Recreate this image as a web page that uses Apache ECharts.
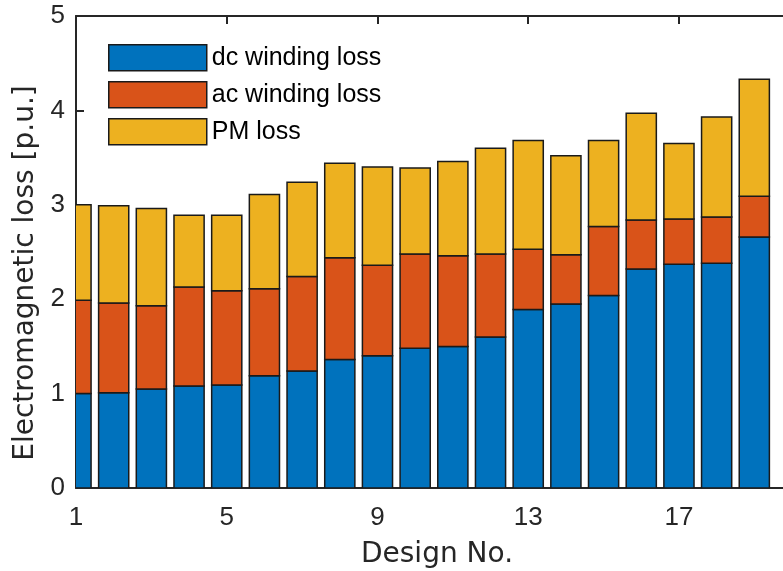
<!DOCTYPE html>
<html>
<head>
<meta charset="utf-8">
<title>Electromagnetic loss breakdown</title>
<script src="https://cdn.jsdelivr.net/npm/echarts@6/dist/echarts.min.js"></script>
<style>
  html, body { margin: 0; padding: 0; background: #fff; }
  #chart { width: 783px; height: 571px; }
</style>
</head>
<body>
<div id="chart"></div>
<script>
// Design numbers and per-design loss components (per unit)
const designs = [1, 2, 3, 4, 5, 6, 7, 8, 9, 10, 11, 12, 13, 14, 15, 16, 17, 18, 19];
const dcLoss = [1.00, 1.01, 1.05, 1.08, 1.09, 1.19, 1.24, 1.36, 1.40, 1.48, 1.50, 1.60, 1.89, 1.95, 2.04, 2.32, 2.37, 2.38, 2.66];
const acLoss = [0.99, 0.95, 0.88, 1.05, 1.00, 0.92, 1.00, 1.08, 0.96, 1.00, 0.96, 0.88, 0.64, 0.52, 0.73, 0.52, 0.48, 0.49, 0.43];
const pmLoss = [1.01, 1.03, 1.03, 0.76, 0.80, 1.00, 1.00, 1.00, 1.04, 0.91, 1.00, 1.12, 1.15, 1.05, 0.91, 1.13, 0.80, 1.06, 1.24];
const seriesNames = ['dc winding loss', 'ac winding loss', 'PM loss'];
const xTicks = [1, 5, 9, 13, 17];
const yTicks = [0, 1, 2, 3, 4, 5];

const seriesColors = ['#0072BD', '#D95319', '#EDB120'];
const EDGE = '#1a1a1a';
const BAR_WIDTH = 0.8;          // bar width in design-number units
const X_RANGE = [1, 20];

const LABEL_FONT = '"DejaVu Sans", "Liberation Sans", sans-serif';
const TICK_FONT = '"Liberation Sans", Arial, Helvetica, sans-serif';
const INK = '#262626';

const chart = echarts.init(document.getElementById('chart'), null, { renderer: 'canvas' });

const components = [dcLoss, acLoss, pmLoss];

// Each component is stacked on the sum of the components below it;
// rectangles are placed through the cartesian scales and clipped to the frame.
function stackedBars(k) {
  return {
    name: seriesNames[k],
    type: 'custom',
    coordinateSystem: 'cartesian2d',
    clip: true,
    encode: { x: 0, y: 1 },
    data: designs.map((d, i) => [d, components[k][i]]),
    itemStyle: { color: seriesColors[k], borderColor: EDGE, borderWidth: 1.5 },
    renderItem: function (params, api) {
      const i = params.dataIndex;
      let base = 0;
      for (let j = 0; j < k; j++) base += components[j][i];
      const x = api.value(0);
      const top = api.coord([x, base + api.value(1)]);
      const bottom = api.coord([x, base]);
      const w = api.size([BAR_WIDTH, 0])[0];
      return {
        type: 'rect',
        shape: { x: top[0] - w / 2, y: top[1], width: w, height: bottom[1] - top[1] },
        style: { fill: seriesColors[k], stroke: EDGE, lineWidth: 1.5 }
      };
    }
  };
}

const frameTick = { show: true, inside: true, length: 8, lineStyle: { color: INK, width: 2 } };
const frameLine = { show: true, onZero: false, lineStyle: { color: INK, width: 2 } };

const option = {
  animation: false,
  backgroundColor: '#ffffff',
  grid: { left: 76, top: 16, width: 716, height: 472, outerBoundsMode: 'none' },
  legend: {
    left: 108,
    top: 44,
    padding: 0,
    orient: 'vertical',
    icon: 'rect',
    itemWidth: 98,
    itemHeight: 26,
    itemGap: 9.5,
    data: seriesNames,
    itemStyle: { borderColor: EDGE, borderWidth: 1.5 },
    textStyle: { fontFamily: TICK_FONT, fontSize: 25, color: '#000' },
    selectedMode: false
  },
  xAxis: [
    {
      type: 'value',
      position: 'bottom',
      min: X_RANGE[0],
      max: X_RANGE[1],
      interval: xTicks[1] - xTicks[0],
      name: 'Design No.',
      nameLocation: 'middle',
      nameGap: 53,
      nameTextStyle: { fontFamily: LABEL_FONT, fontSize: 28, color: INK, padding: [0, 0, 0, 6] },
      axisLine: frameLine,
      axisTick: frameTick,
      axisLabel: {
        fontFamily: TICK_FONT, fontSize: 26, color: INK, margin: 17,
        formatter: v => (xTicks.indexOf(v) >= 0 ? String(v) : '')
      },
      splitLine: { show: false }
    },
    {
      type: 'value',
      position: 'top',
      min: X_RANGE[0],
      max: X_RANGE[1],
      interval: xTicks[1] - xTicks[0],
      axisLine: frameLine,
      axisTick: frameTick,
      axisLabel: { show: false },
      splitLine: { show: false }
    }
  ],
  yAxis: [
    {
      type: 'value',
      position: 'left',
      min: yTicks[0],
      max: yTicks[yTicks.length - 1],
      interval: yTicks[1] - yTicks[0],
      name: 'Electromagnetic loss [p.u.]',
      nameLocation: 'middle',
      nameGap: 30,
      nameTextStyle: { fontFamily: LABEL_FONT, fontSize: 28, color: INK, padding: [0, 42, 0, 0] },
      axisLine: frameLine,
      axisTick: frameTick,
      axisLabel: { fontFamily: TICK_FONT, fontSize: 26, color: INK, margin: 11 },
      splitLine: { show: false }
    },
    {
      type: 'value',
      position: 'right',
      min: yTicks[0],
      max: yTicks[yTicks.length - 1],
      interval: yTicks[1] - yTicks[0],
      axisLine: frameLine,
      axisTick: frameTick,
      axisLabel: { show: false },
      splitLine: { show: false }
    }
  ],
  series: components.map((_, k) => stackedBars(k))
};

chart.setOption(option);
</script>
</body>
</html>
